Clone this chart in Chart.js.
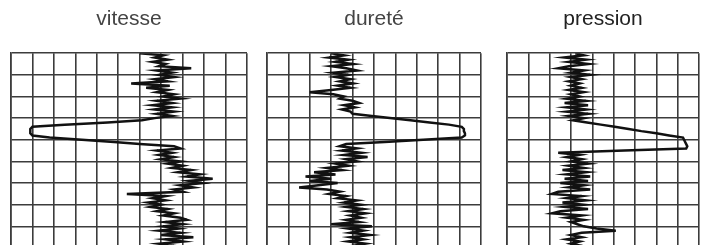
<!DOCTYPE html>
<html>
<head>
<meta charset="utf-8">
<script src="https://cdn.jsdelivr.net/npm/chart.js@4"></script>
<style>
  html, body { margin: 0; padding: 0; background: #fff; overflow: hidden; }
  body { width: 703px; height: 245px; position: relative; }
  .panel { position: absolute; top: 0; height: 252px; }
</style>
</head>
<body>
<div class="panel" style="left:9px;width:240px"><canvas id="c1"></canvas></div>
<div class="panel" style="left:265px;width:218px"><canvas id="c2"></canvas></div>
<div class="panel" style="left:505px;width:196px"><canvas id="c3"></canvas></div>
<script>
// pen position (in grid divisions) read every 1/10 of a row, top to bottom
const vitesse = [
  6.0,7.1,6.7,7.3,6.6,7.2,6.9,8.4,6.8,7.5,
  6.9,7.6,6.7,7.3,5.6,7.4,6.3,7.3,6.8,7.6,
  7.1,7.9,6.8,7.5,6.6,7.5,6.7,7.6,6.8,7.5,
  6.7,6.1,4.5,2.5,1.0,0.9,0.9,0.9,1.0,1.8,
  3.3,4.8,6.0,7.6,7.9,6.8,7.5,6.9,7.6,7.0,
  7.9,7.3,8.0,7.5,8.4,7.8,8.8,8.2,9.4,8.3,
  8.9,7.9,8.5,7.6,8.0,5.4,7.2,6.6,7.2,6.4,
  7.0,6.5,7.3,6.8,7.6,7.1,7.9,8.2,7.2,8.0,
  7.1,7.8,6.9,7.9,7.0,8.5,7.2,8.0,6.9,7.6,
  7.0
];
const durete = [
  3.0,3.6,2.9,3.8,3.2,4.0,3.0,3.7,4.2,3.1,
  3.8,3.2,3.9,3.4,4.0,3.3,3.9,3.0,2.0,3.1,
  3.6,3.4,4.0,4.3,3.6,4.1,3.5,3.9,4.0,4.9,
  5.85,6.7,7.6,8.5,9.1,9.2,9.2,9.25,9.25,9.1,
  7.3,5.5,3.7,3.4,4.2,3.5,4.4,3.6,4.7,3.7,
  4.2,3.2,3.8,2.8,3.5,2.2,3.2,1.8,3.0,2.0,
  3.3,2.4,1.5,2.8,3.4,2.9,3.7,3.3,4.2,3.6,
  4.4,3.7,4.5,3.8,4.6,3.9,4.4,3.7,4.3,3.0,
  4.9,3.8,4.5,3.9,4.8,3.9,4.5,3.8,4.6,4.0,
  4.5
];
const pression = [
  3.2,3.6,2.7,3.7,2.9,3.8,2.9,2.4,3.6,3.0,
  3.9,3.0,3.5,2.9,3.4,3.0,3.5,2.9,3.6,3.0,
  3.4,2.8,3.7,2.7,3.8,2.8,3.7,2.8,3.8,2.9,
  3.6,3.1,3.75,4.4,5.05,5.7,6.3,7.0,7.6,8.25,
  8.3,8.35,8.4,8.45,8.4,5.5,2.4,3.4,2.8,3.5,
  3.0,3.8,2.9,3.6,2.6,3.7,2.8,3.9,2.7,3.8,
  2.5,3.6,2.9,3.9,2.4,2.1,3.5,2.8,3.7,2.6,
  3.6,2.7,3.8,2.5,2.1,3.5,2.8,3.6,3.0,3.3,
  3.6,4.2,5.1,3.5,3.0,3.5,2.8,3.4,3.0,3.5,
  3.1
];
const titles = ['vitesse', 'dureté', 'pression'];
const columns = [11, 10, 9];
const rows = 9;
const samplesPerRow = 10;

function strip(id, title, values, cols, titleColor){
  const pts = values.map((v, i) => ({x: v, y: i}));
  const grid = {color: '#3c3c3c', lineWidth: 1.6, drawTicks: false};
  new Chart(document.getElementById(id), {
    type: 'scatter',
    data: {datasets: [{
      data: pts,
      showLine: true,
      borderColor: '#111',
      borderWidth: 2.5,
      pointRadius: 0,
      tension: 0
    }]},
    options: {
      responsive: true,
      maintainAspectRatio: false,
      animation: false,
      layout: {padding: {left: 2, right: 2, top: 0, bottom: 4}},
      plugins: {
        legend: {display: false},
        tooltip: {enabled: false},
        title: {
          display: true,
          text: title,
          color: titleColor,
          font: {family: 'Liberation Sans, Arial, sans-serif', size: 21, weight: 'normal'},
          padding: {top: 7, bottom: 21}
        }
      },
      scales: {
        x: {
          type: 'linear', min: 0, max: cols,
          ticks: {display: false, stepSize: 1},
          grid: grid,
          border: {display: true, color: '#3c3c3c', width: 1.6}
        },
        y: {
          type: 'linear', min: 0, max: rows * samplesPerRow, reverse: true,
          ticks: {display: false, stepSize: samplesPerRow},
          grid: grid,
          border: {display: true, color: '#3c3c3c', width: 1.6}
        }
      }
    }
  });
}

strip('c1', titles[0], vitesse, columns[0], '#444');
strip('c2', titles[1], durete, columns[1], '#444');
strip('c3', titles[2], pression, columns[2], '#222');
</script>
</body>
</html>
